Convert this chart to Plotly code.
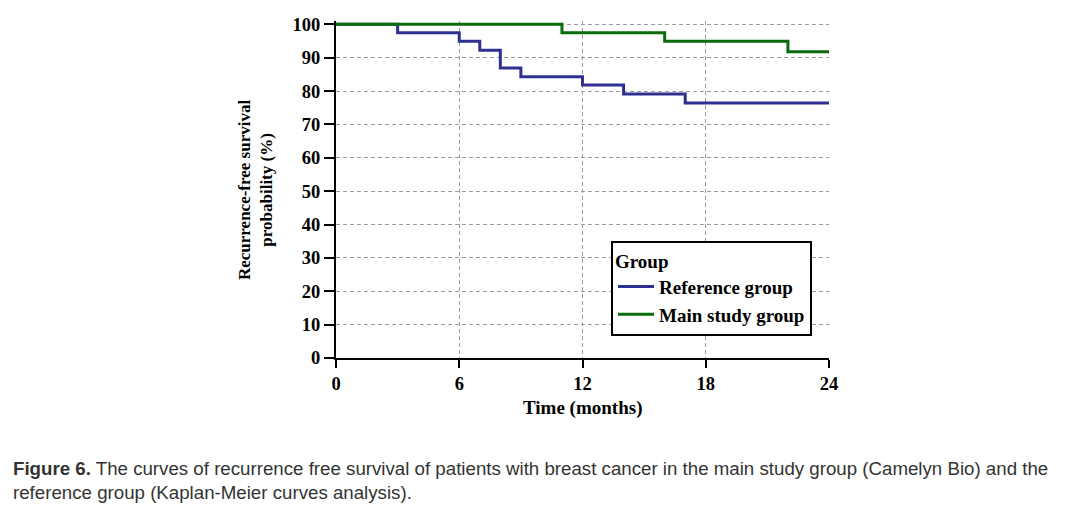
import plotly.graph_objects as go

ref_time = [0, 3, 6, 7, 8, 9, 12, 14, 17, 24]
ref_surv = [100, 97.5, 94.9, 92.2, 86.9, 84.3, 81.8, 79.1, 76.4, 76.4]
main_time = [0, 11, 16, 22, 24]
main_surv = [100, 97.5, 94.9, 91.8, 91.8]

x_ticks = [0, 6, 12, 18, 24]
y_ticks = [0, 10, 20, 30, 40, 50, 60, 70, 80, 90, 100]

SERIF = "Liberation Serif, Times New Roman, serif"
SANS = "Liberation Sans, Arial, sans-serif"
BLUE = "#2e3192"
GREEN = "#0b6b0b"

fig = go.Figure()
fig.add_trace(go.Scatter(x=ref_time, y=ref_surv, mode="lines", line_shape="hv",
                         line=dict(color=BLUE, width=3), name="<b>Reference group</b>"))
fig.add_trace(go.Scatter(x=main_time, y=main_surv, mode="lines", line_shape="hv",
                         line=dict(color=GREEN, width=3), name="<b>Main study group</b>"))

axis_common = dict(showline=True, linecolor="black", linewidth=2,
                   ticks="outside", tickwidth=2, tickcolor="black",
                   showgrid=True, gridcolor="#9c9c9c", griddash="4px,3px", gridwidth=1,
                   zeroline=False, tickfont=dict(family=SERIF, size=18.5, color="black"))

fig.update_xaxes(range=[0, 24], tickvals=x_ticks, ticklen=8,
                 ticktext=[f"<b>{v}</b>" for v in x_ticks], **axis_common)
fig.update_yaxes(range=[0, 101], tickvals=y_ticks, ticklen=10,
                 ticktext=[f"<b>{v}</b>" for v in y_ticks], **axis_common)

annotations = [
    dict(text="<b>Time (months)</b>", xref="paper", yref="paper", x=0.5, y=-0.148,
         xanchor="center", yanchor="middle", showarrow=False,
         font=dict(family=SERIF, size=19, color="black")),
    dict(text="<b>Recurrence-free survival<br>probability (%)</b>", xref="paper", yref="paper",
         x=(255 - 336) / 493, y=(358 - 190) / 337, xanchor="center", yanchor="middle",
         textangle=-90, showarrow=False,
         font=dict(family=SERIF, size=17, color="black")),
    dict(text="<b>Figure 6.</b> The curves of recurrence free survival of patients with breast cancer in the main study group (Camelyn Bio) and the",
         xref="paper", yref="paper", x=(11 - 336) / 493, y=(358 - 468) / 337,
         xanchor="left", yanchor="middle", showarrow=False,
         font=dict(family=SANS, size=18.7, color="#333333")),
    dict(text="reference group (Kaplan-Meier curves analysis).",
         xref="paper", yref="paper", x=(11 - 336) / 493, y=(358 - 492) / 337,
         xanchor="left", yanchor="middle", showarrow=False,
         font=dict(family=SANS, size=18.7, color="#333333")),
]

fig.update_layout(
    width=1065, height=509,
    margin=dict(l=336, r=236, t=21, b=151),
    paper_bgcolor="white", plot_bgcolor="white",
    showlegend=True,
    legend=dict(x=(611 - 336) / 493, y=(358 - 241) / 337, xanchor="left", yanchor="top",
                bgcolor="white", bordercolor="black", borderwidth=2,
                title=dict(text="<b>Group</b>", font=dict(family=SERIF, size=19, color="black")),
                font=dict(family=SERIF, size=19, color="black"),
                itemwidth=36, tracegroupgap=0),
    annotations=annotations,
)

fig.write_html("out.html")
